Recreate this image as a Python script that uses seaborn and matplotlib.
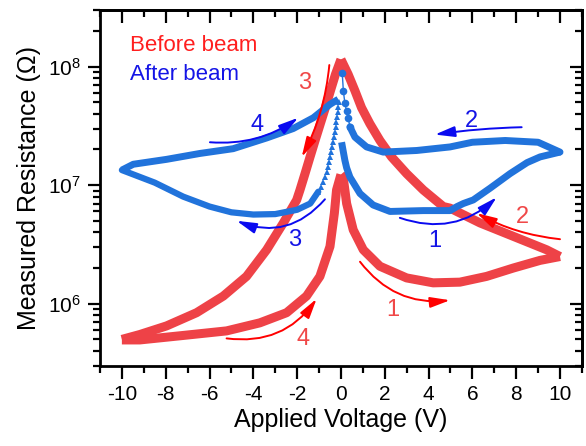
import matplotlib
matplotlib.use("Agg")
import matplotlib.pyplot as plt
import seaborn as sns
import pandas as pd

# ---------------- data ----------------
# Before beam (red) - four sweep branches
red_b1_v = [0.0, 0.1, 0.18, 0.26, 0.56, 1.02, 1.78, 3.0, 4.21, 5.43, 6.65, 7.87, 9.09, 10.0]
red_b1_r = [1.23e7, 1.17e7, 9.1e6, 7.0e6, 4.2e6, 2.85e6, 2.07e6, 1.65e6, 1.5e6, 1.52e6, 1.70e6, 2.0e6, 2.32e6, 2.5e6]
red_b2_v = [10.0, 9.39, 7.87, 6.35, 4.98, 4.67, 3.76, 3.0, 2.31, 1.78, 1.32, 0.94, 0.64, 0.33, 0.0]
red_b2_r = [2.5e6, 2.85e6, 3.7e6, 4.8e6, 6.4e6, 6.6e6, 9.1e6, 1.25e7, 1.73e7, 2.38e7, 3.3e7, 4.5e7, 6.25e7, 8.6e7, 1.15e8]
red_b3_v = [0.0, -0.25, -0.48, -0.71, -0.94, -1.18, -1.41, -1.64, -1.87, -2.02, -2.63, -3.39, -4.31, -5.37, -6.59, -7.96, -9.18, -10.0]
red_b3_r = [1.15e8, 8.6e7, 6.25e7, 4.5e7, 3.3e7, 2.38e7, 1.73e7, 1.25e7, 9.1e6, 7.5e6, 4.8e6, 2.85e6, 1.70e6, 1.16e6, 8.4e5, 6.5e5, 5.5e5, 5.0e5]
red_b4_v = [-10.0, -9.18, -7.2, -5.22, -3.7, -2.48, -1.57, -0.96, -0.5, -0.3, -0.2, 0.0]
red_b4_r = [4.95e5, 4.95e5, 5.4e5, 5.9e5, 6.9e5, 8.4e5, 1.16e6, 1.70e6, 3.04e6, 5.8e6, 9.1e6, 1.23e7]

# After beam (blue) - four sweep branches
blue_b1_v = [0.03, 0.18, 0.26, 0.41, 0.87, 1.47, 2.24, 3.0, 3.76, 4.5, 4.98, 5.3, 5.59, 6.04, 6.8, 7.72, 8.5, 9.09, 10.0]
blue_b1_r = [2.3e7, 1.62e7, 1.4e7, 1.17e7, 8.5e6, 6.8e6, 6.0e6, 6.05e6, 6.1e6, 6.1e6, 6.1e6, 6.6e6, 7.0e6, 7.5e6, 9.4e6, 1.25e7, 1.55e7, 1.73e7, 1.9e7]
blue_b2_v = [10.0, 9.0, 7.5, 6.0, 4.98, 3.46, 1.93, 1.17, 0.64, 0.41, 0.33, 0.26, 0.18, 0.11, 0.06]
blue_b2_r = [1.9e7, 2.3e7, 2.38e7, 2.3e7, 2.1e7, 1.96e7, 1.9e7, 2.1e7, 2.54e7, 3.1e7, 3.7e7, 4.2e7, 4.9e7, 6.25e7, 8.8e7]
blue_b3_v = [-0.106, -0.122, -0.152, -0.183, -0.213, -0.243, -0.274, -0.32, -0.35, -0.396, -0.441, -0.487,
             -0.533, -0.594, -0.654, -0.731, -0.807, -0.913, -1.035, -1.4, -2.0, -3.0, -4.0, -5.0, -6.0, -7.2, -8.5, -10.0]
blue_b3_r = [4.99e7, 4.54e7, 4.12e7, 3.74e7, 3.40e7, 3.08e7, 2.80e7, 2.54e7, 2.31e7, 2.10e7, 1.90e7, 1.73e7,
             1.57e7, 1.43e7, 1.29e7, 1.17e7, 1.07e7, 9.7e6, 8.8e6, 7.0e6, 6.2e6, 5.7e6, 5.65e6, 5.9e6, 6.6e6, 8.0e6, 1.05e7, 1.34e7]
blue_b4_v = [-10.0, -9.48, -7.96, -6.44, -4.92, -3.39, -2.18, -1.26, -0.5, -0.12]
blue_b4_r = [1.34e7, 1.5e7, 1.65e7, 1.85e7, 2.03e7, 2.5e7, 3.0e7, 3.7e7, 4.8e7, 5.3e7]

series_labels = ["Before beam", "After beam"]
x_ticks = [-10, -8, -6, -4, -2, 0, 2, 4, 6, 8, 10]
x_label = "Applied Voltage (V)"
y_label = "Measured Resistance (\u03A9)"

# branch annotations: label, text pos, arrow tail, arrow head, curvature
red_notes = [("1", (2.37, 8.9e5), (0.87, 2.26e6), (4.98, 1.07e6), 0.28),
             ("2", (8.3, 5.4e6), (10.0, 3.5e6), (6.2, 5.8e6), -0.1),
             ("3", (-1.64, 7.2e7), (-0.53, 1.03e8), (-1.79, 1.73e7), -0.1),
             ("4", (-1.74, 5.0e5), (-5.22, 5.1e5), (-1.11, 1.1e6), 0.3)]
blue_notes = [("1", (4.29, 3.35e6), (2.69, 5.3e6), (7.11, 7.9e6), 0.3),
              ("2", (5.97, 3.5e7), (8.25, 3.08e7), (4.29, 2.67e7), 0.03),
              ("3", (-2.1, 3.46e6), (-0.73, 7.6e6), (-4.76, 5.0e6), -0.35),
              ("4", (-3.85, 3.2e7), (-5.98, 2.3e7), (-1.95, 3.7e7), 0.18)]

# ---------------- style ----------------
sns.set_style("ticks")
plt.rcParams["font.family"] = ["Liberation Sans", "DejaVu Sans"]
plt.rcParams["mathtext.fontset"] = "custom"
plt.rcParams["mathtext.rm"] = "Liberation Sans"
plt.rcParams["mathtext.it"] = "Liberation Sans:italic"
for k in ["axes.edgecolor", "xtick.color", "ytick.color", "text.color", "axes.labelcolor"]:
    plt.rcParams[k] = "black"

RED = "#EE4247"
BLUE = "#2173DB"

fig = plt.figure(figsize=(5.86, 4.46), dpi=100)
ax = fig.add_axes([0.1706, 0.180, 0.8224, 0.7976])

def draw(v, r, **kw):
    df = pd.DataFrame({"v": v, "r": r})
    sns.lineplot(data=df, x="v", y="r", sort=False, estimator=None, ax=ax, **kw)

# red (before beam)
for v, r in [(red_b1_v, red_b1_r), (red_b2_v, red_b2_r), (red_b3_v, red_b3_r), (red_b4_v, red_b4_r)]:
    draw(v, r, color=RED, lw=6.5, solid_joinstyle="round", solid_capstyle="butt")

# blue (after beam)
draw(blue_b1_v, blue_b1_r, color=BLUE, lw=5, solid_joinstyle="round", solid_capstyle="butt")
draw(blue_b4_v, blue_b4_r, color=BLUE, lw=5, solid_joinstyle="round", solid_capstyle="butt")
n2 = 10
draw(blue_b2_v[:n2], blue_b2_r[:n2], color=BLUE, lw=5, solid_joinstyle="round", solid_capstyle="round")
draw(blue_b2_v[n2 - 1:], blue_b2_r[n2 - 1:], color=BLUE, lw=1, marker="o", markersize=5.5,
     markeredgewidth=0)
n3 = 19
draw(blue_b3_v[n3 - 1:], blue_b3_r[n3 - 1:], color=BLUE, lw=4.5, solid_joinstyle="round", solid_capstyle="round")
draw(blue_b3_v[:n3], blue_b3_r[:n3], color=BLUE, lw=0, marker="^", markersize=5, markeredgewidth=0)

ax.set_yscale("log")
ax.set_xlim(-11, 11)
ax.set_ylim(3e5, 3e8)
ax.set_xticks(x_ticks)
ax.set_xticklabels([str(t) for t in x_ticks])
ax.xaxis.set_minor_locator(matplotlib.ticker.MultipleLocator(1))
ax.set_xlabel(x_label, fontsize=18, labelpad=3)
ax.set_ylabel(y_label, fontsize=18, labelpad=5)

for s in ax.spines.values():
    s.set_linewidth(2)
    s.set_visible(True)
ax.tick_params(which="major", direction="out", length=9, width=1.6, labelsize=15, pad=5)
ax.tick_params(which="minor", direction="out", length=5, width=1.6)

sx = ax.secondary_xaxis("top")
sx.set_xticks(x_ticks)
sx.xaxis.set_minor_locator(matplotlib.ticker.MultipleLocator(1))
sx.tick_params(which="major", direction="in", length=9, width=1.6, labeltop=False)
sx.tick_params(which="minor", direction="in", length=5, width=1.6)
sy = ax.secondary_yaxis("right")
sy.tick_params(which="major", direction="in", length=9, width=1.6, labelright=False)
sy.tick_params(which="minor", direction="in", length=5, width=1.6)
for a in (sx, sy):
    for s in a.spines.values():
        s.set_linewidth(2)

# series labels
ax.text(0.062, 0.90, series_labels[0], transform=ax.transAxes, color="#FF1E1E",
        fontsize=16, va="center", ha="left")
ax.text(0.062, 0.819, series_labels[1], transform=ax.transAxes, color="#1414E6",
        fontsize=16, va="center", ha="left")

# branch arrows
for notes, acol, tcol in [(red_notes, "#FF0000", "#F04848"), (blue_notes, "#0A0AF0", "#1414E6")]:
    for lab, tpos, tail, head, rad in notes:
        ax.annotate("", xy=head, xytext=tail,
                    arrowprops=dict(arrowstyle="-|>,head_length=0.6,head_width=0.16",
                                    color=acol, lw=1.4, mutation_scale=20,
                                    shrinkA=0, shrinkB=0,
                                    connectionstyle=f"arc3,rad={rad}"))
        ax.text(tpos[0], tpos[1], lab, color=tcol, fontsize=17, ha="center", va="center")

fig.savefig("out.png", dpi=100)
